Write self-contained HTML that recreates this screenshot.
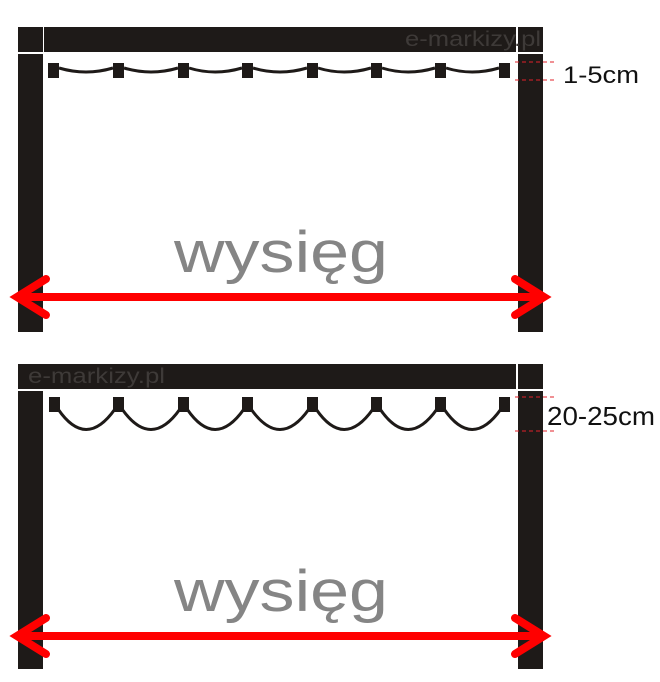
<!DOCTYPE html>
<html><head><style>html,body{margin:0;padding:0;background:#fff;}svg{display:block}</style></head>
<body>
<svg width="660" height="682" viewBox="0 0 660 682" xmlns="http://www.w3.org/2000/svg">
<defs>
<g id="frame">
  <rect x="18" y="27" width="25" height="25" fill="#1e1a18"/>
  <rect x="44" y="27" width="472" height="25" fill="#1e1a18"/>
  <rect x="518" y="27" width="25" height="25" fill="#1e1a18"/>
  <rect x="18" y="54" width="25" height="278" fill="#1e1a18"/>
  <rect x="518" y="54" width="25" height="278" fill="#1e1a18"/>
</g>
</defs>

<!-- TOP -->
<use href="#frame"/>
<text x="405" y="46" font-family="Liberation Sans, sans-serif" font-size="21" fill="#3e3a38" textLength="136" lengthAdjust="spacingAndGlyphs">e-markizy.pl</text>
<g fill="#1e1a18">
  <rect x="48" y="63" width="11" height="15"/><rect x="113" y="63" width="11" height="15"/>
  <rect x="178" y="63" width="11" height="15"/><rect x="242" y="63" width="11" height="15"/>
  <rect x="307" y="63" width="11" height="15"/><rect x="371" y="63" width="11" height="15"/>
  <rect x="435" y="63" width="11" height="15"/><rect x="499" y="63" width="11" height="15"/>
</g>
<path d="M59 68 Q86 76 113 68 M124 68 Q151 76 178 68 M189 68 Q215 76 242 68 M253 68 Q280 76 307 68 M318 68 Q344 76 371 68 M382 68 Q408 76 435 68 M446 68 Q472 76 499 68" fill="none" stroke="#1e1a18" stroke-width="3"/>
<line x1="515" y1="62" x2="557" y2="62" stroke="#e0202a" stroke-width="1" stroke-dasharray="4,3"/>
<line x1="515" y1="80" x2="557" y2="80" stroke="#e0202a" stroke-width="1" stroke-dasharray="4,3"/>
<text x="563" y="83" font-family="Liberation Sans, sans-serif" font-size="24" fill="#111" textLength="76" lengthAdjust="spacingAndGlyphs">1-5cm</text>
<text x="174" y="272" font-family="Liberation Sans, sans-serif" font-size="58" fill="#858585" textLength="214" lengthAdjust="spacingAndGlyphs">wysięg</text>
<g stroke="#ff0000" stroke-width="8" stroke-linecap="round" fill="none">
  <line x1="18" y1="297" x2="543" y2="297"/>
  <polyline points="46,279 17,297 46,315"/>
  <polyline points="515,279 544,297 515,315"/>
</g>

<!-- BOTTOM -->
<g transform="translate(0,337)"><use href="#frame"/></g>
<rect x="18" y="364" width="498" height="25" fill="#1e1a18"/>
<text x="28" y="383" font-family="Liberation Sans, sans-serif" font-size="21" fill="#3e3a38" textLength="137" lengthAdjust="spacingAndGlyphs">e-markizy.pl</text>
<g fill="#1e1a18">
  <rect x="49" y="397" width="11" height="15"/><rect x="113" y="397" width="11" height="15"/>
  <rect x="178" y="397" width="11" height="15"/><rect x="242" y="397" width="11" height="15"/>
  <rect x="307" y="397" width="11" height="15"/><rect x="371" y="397" width="11" height="15"/>
  <rect x="435" y="397" width="11" height="15"/><rect x="499" y="397" width="11" height="15"/>
</g>
<path d="M58 409 Q86 450 115 409 M122 409 Q151 450 180 409 M187 409 Q215 450 244 409 M251 409 Q280 450 309 409 M316 409 Q344 450 373 409 M380 409 Q408 450 437 409 M444 409 Q472 450 501 409" fill="none" stroke="#1e1a18" stroke-width="3"/>
<line x1="515" y1="397" x2="557" y2="397" stroke="#e0202a" stroke-width="1" stroke-dasharray="4,3"/>
<line x1="515" y1="431" x2="557" y2="431" stroke="#e0202a" stroke-width="1" stroke-dasharray="4,3"/>
<text x="547" y="425" font-family="Liberation Sans, sans-serif" font-size="26" fill="#111" textLength="108" lengthAdjust="spacingAndGlyphs">20-25cm</text>
<text x="174" y="611" font-family="Liberation Sans, sans-serif" font-size="58" fill="#858585" textLength="214" lengthAdjust="spacingAndGlyphs">wysięg</text>
<g stroke="#ff0000" stroke-width="8" stroke-linecap="round" fill="none">
  <line x1="18" y1="636" x2="543" y2="636"/>
  <polyline points="46,618 17,636 46,654"/>
  <polyline points="515,618 544,636 515,654"/>
</g>
</svg>
</body></html>
